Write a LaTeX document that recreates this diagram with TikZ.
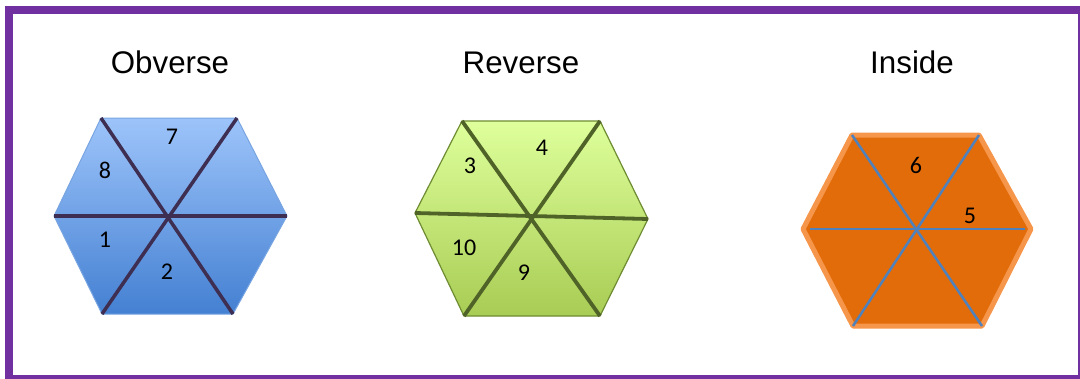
\documentclass[tikz,border=0pt]{standalone}
\usepackage{fontspec}
\setmainfont{Liberation Sans}
\newfontfamily\numfont{Carlito}
\usetikzlibrary{positioning}
\definecolor{frame}{RGB}{112,48,160}
\definecolor{obvtop}{RGB}{157,196,250}
\definecolor{obvbot}{RGB}{68,128,210}
\definecolor{obvedge}{RGB}{120,165,225}
\definecolor{obvline}{RGB}{62,46,82}
\definecolor{revtop}{RGB}{222,255,155}
\definecolor{revbot}{RGB}{168,204,84}
\definecolor{revedge}{RGB}{110,140,50}
\definecolor{revline}{RGB}{79,98,40}
\definecolor{insfill}{RGB}{227,108,10}
\definecolor{insedge}{RGB}{245,150,75}
\definecolor{insline}{RGB}{79,129,189}

\begin{document}
\begin{tikzpicture}[x=1pt,y=-1pt,
  title/.style={font=\fontsize{31.3}{36}\selectfont, inner sep=0pt, anchor=base},
  num/.style={font=\numfont\fontsize{24}{28}\selectfont, inner sep=0pt},
  obvface/.style={top color=obvtop, bottom color=obvbot, draw=obvedge, line width=1pt},
  obvspoke/.style={line width=3.5pt, obvline},
  revface/.style={top color=revtop, bottom color=revbot, draw=revedge, line width=1.2pt},
  revspoke/.style={line width=3.8pt, revline},
  insface/.style={fill=insfill, draw=insedge, line width=5pt, line join=round},
  insspoke/.style={line width=2.5pt, insline}]
\useasboundingbox (0,0) rectangle (1080,378);
\clip (0,0) rectangle (1080,378);
\fill[white] (0,0) rectangle (1080,378);
\draw[frame, line width=8pt] (9,10) rectangle (1082,379);
% titles
\node[title] (tobv) at (170,73) {Obverse};
\node[title] (trev) at (521,73) {Reverse};
\node[title] (tins) at (912,73) {Inside};
% obverse
\coordinate (o1) at (101,118);
\coordinate (o2) at (237,118);
\coordinate (o3) at (287,216);
\coordinate (o4) at (233,314);
\coordinate (o5) at (102,314);
\coordinate (o6) at (54,216);
\draw[obvface] (o1) -- (o2) -- (o3) -- (o4) -- (o5) -- (o6) -- cycle;
\draw[obvspoke] (o1) -- (o4);
\draw[obvspoke] (o2) -- (o5);
\draw[obvspoke] (o6) -- (o3);
\node[num] (n7) at (172,137) {7};
\node[num] (n8) at (105,170) {8};
\node[num] (n1) at (105,240) {1};
\node[num] (n2) at (167,272) {2};
% reverse
\coordinate (r1) at (462,121);
\coordinate (r2) at (600,121);
\coordinate (r3) at (648,219);
\coordinate (r4) at (600,316);
\coordinate (r5) at (464,316);
\coordinate (r6) at (415,213);
\draw[revface] (r1) -- (r2) -- (r3) -- (r4) -- (r5) -- (r6) -- cycle;
\draw[revspoke] (r1) -- (r4);
\draw[revspoke] (r2) -- (r5);
\draw[revspoke] (r6) -- (r3);
\node[num] (n3) at (470,166) {3};
\node[num] (n4) at (542,148) {4};
\node[num] (n10) at (464,248) {10};
\node[num] (n9) at (524,273) {9};
% inside
\coordinate (i1) at (852,135);
\coordinate (i2) at (979,135);
\coordinate (i3) at (1031,229);
\coordinate (i4) at (982,326);
\coordinate (i5) at (853,326);
\coordinate (i6) at (803,229);
\draw[insface] (i1) -- (i2) -- (i3) -- (i4) -- (i5) -- (i6) -- cycle;
\draw[insspoke] (i1) -- (i4);
\draw[insspoke] (i2) -- (i5);
\draw[insspoke, shorten <=7pt, shorten >=6pt] (i6) -- (i3);
\node[num] (n6) at (916,165) {6};
\node[num] (n5) at (970,216) {5};
\end{tikzpicture}
\end{document}
